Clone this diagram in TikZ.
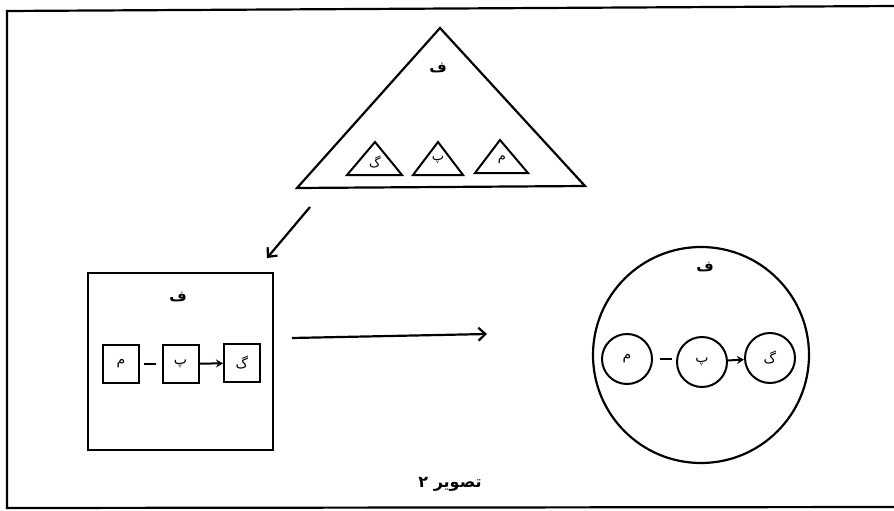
\documentclass[tikz,border=0pt]{standalone}
\usepackage{fontspec}
\usetikzlibrary{arrows.meta}
\TeXXeTstate=1
\newfontfamily\arabicfont[Script=Arabic]{DejaVu Sans}
\newcommand{\ar}[1]{{\arabicfont\beginR #1\endR}}
\begin{document}
\begin{tikzpicture}[x=1pt,y=-1pt,
  outline/.style={line width=2.2pt, line join=miter},
  lbl/.style={inner sep=0pt, font=\fontsize{15}{16}\selectfont\bfseries},
  sbox/.style={draw, line width=2pt, minimum width=36pt, minimum height=38pt, inner sep=0pt, font=\fontsize{14}{15}\selectfont},
  scirc/.style={draw, circle, line width=2pt, minimum size=50pt, inner sep=0pt, font=\fontsize{14}{15}\selectfont},
  barb/.style={-{Straight Barb[length=7pt,width=13pt,line width=2.2pt]}, line width=2.2pt},
  small/.style={-{Stealth[length=7pt,width=8pt]}, line width=2pt}]
\useasboundingbox (0,0) rectangle (894,511);
% frame
\coordinate (fTL) at (7,11);
\coordinate (fTR) at (896,6);
\coordinate (fBL) at (7,508);
\coordinate (fBR) at (896,507);
\draw[line width=2.2pt] (fTR) -- (fTL) -- (fBL) -- (fBR);
% main triangle
\coordinate (tA) at (440,28);
\coordinate (tL) at (297,188);
\coordinate (tR) at (585,186);
\draw[outline] (tA) -- (tL) -- (tR) -- cycle;
\node[lbl] (tf) at (438,68) {\ar{ف}};
% small triangles
\draw[outline, line width=2pt] (375,142) -- (347,175) -- (402,175) -- cycle;
\draw[outline, line width=2pt] (438,142) -- (413,175) -- (463,175) -- cycle;
\draw[outline, line width=2pt] (500,140) -- (475,173) -- (528,173) -- cycle;
\node[inner sep=0pt, font=\fontsize{13}{14}\selectfont] (tg) at (375,162) {\ar{گ}};
\node[inner sep=0pt, font=\fontsize{13}{14}\selectfont] (tp) at (438,160) {\ar{پ}};
\node[inner sep=0pt, font=\fontsize{13}{14}\selectfont] (tm) at (502,160) {\ar{م}};
% square
\node[draw, outline, minimum width=185pt, minimum height=177pt, inner sep=0pt] (sq) at (180.5,361.5) {};
\node[lbl] (sf) at (178,297) {\ar{ف}};
\node[sbox] (bm) at (121,364) {\ar{م}};
\node[sbox] (bp) at (180.5,364) {\ar{پ}};
\node[sbox] (bg) at (242,363) {\ar{گ}};
\draw[line width=2pt] (bm.east) ++(4,0) coordinate (d1) -- ++(12,0) coordinate (d2);
\draw[small] (bp) -- (bg);
% arrow triangle -> square
\coordinate (a1) at (310,207);
\coordinate (a2) at (267,258);
\draw[barb] (a1) -- (a2);
% long arrow
\coordinate (l1) at (292,338);
\coordinate (l2) at (487,334);
\draw[barb] (l1) -- (l2);
% big circle
\node[draw, circle, outline, minimum size=216pt, inner sep=0pt] (bc) at (701,355) {};
\node[lbl] (cf) at (705,267) {\ar{ف}};
\node[scirc] (cm) at (627,359) {\ar{م}};
\node[scirc] (cp) at (702,362) {\ar{پ}};
\node[scirc] (cg) at (770,358) {\ar{گ}};
\draw[line width=2pt] (cm.east) ++(7,0) coordinate (e1) -- ++(12,0) coordinate (e2);
\draw[small] (cp) -- (cg);
% caption
\node[inner sep=0pt, font=\fontsize{16}{17}\selectfont\bfseries] (cap) at (450,484) {{\arabicfont\beginR تصویر ۲\endR}};
\end{tikzpicture}
\end{document}
